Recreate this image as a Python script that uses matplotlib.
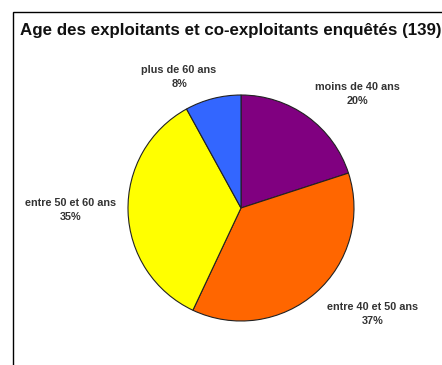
import matplotlib
matplotlib.use("Agg")
import matplotlib.pyplot as plt
from matplotlib.patches import Rectangle

categories = ["moins de 40 ans", "entre 40 et 50 ans", "entre 50 et 60 ans", "plus de 60 ans"]
values = [20, 37, 35, 8]
colors = ["#800080", "#FF6600", "#FFFF00", "#3366FF"]
title = "Age des exploitants et co-exploitants enquêtés (139)"

W, H = 442, 365
fig = plt.figure(figsize=(W / 100, H / 100), dpi=100)
fig.patch.set_facecolor("white")

# frame
fig.patches.append(Rectangle((13 / W, -0.05), 1.2, (H - 12) / H + 0.05, transform=fig.transFigure,
                             fill=False, edgecolor="black", linewidth=1.0))

fig.text(20 / W, 1 - 30 / H, title, fontsize=12.2, fontweight="bold",
         family="Liberation Sans", ha="left", va="center", color="#111111")

cx, cy, r = 241, 208, 113
ax = fig.add_axes([(cx - r) / W, (H - cy - r) / H, 2 * r / W, 2 * r / H])
ax.pie(values, colors=colors, startangle=90, counterclock=False,
       wedgeprops=dict(edgecolor="#222222", linewidth=0.8))
ax.set_xlim(-1, 1)
ax.set_ylim(-1, 1)
ax.set_aspect("auto")

label_pos = [(357, 94), (373, 314), (71, 210), (179, 77)]
for (x, y), cat, v in zip(label_pos, categories, values):
    fig.text(x / W, 1 - y / H, f"{cat}\n{v}%", fontsize=7.8, fontweight="bold",
             family="Liberation Sans", ha="center", va="center", linespacing=1.45,
             color="#333333")

fig.savefig("out.png", dpi=100)
